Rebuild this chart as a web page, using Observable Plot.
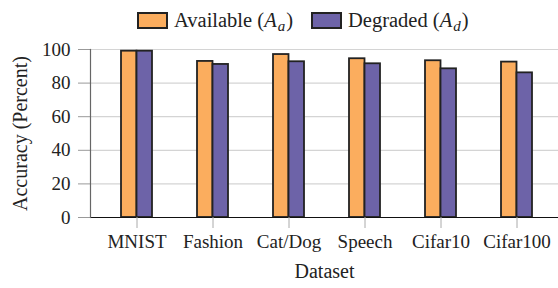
<!DOCTYPE html>
<html>
<head>
<meta charset="utf-8">
<script src="https://cdn.jsdelivr.net/npm/d3@7"></script>
<script src="https://cdn.jsdelivr.net/npm/@observablehq/plot@0.6"></script>
<style>
  html, body { margin: 0; padding: 0; background: #fff; }
  body { width: 558px; height: 288px; overflow: hidden; font-family: "Liberation Serif", "DejaVu Serif", serif; }
  #legend { position: relative; height: 40px; font-size: 20.5px; color: #222; }
  .item { position: absolute; top: 9px; display: flex; align-items: center; white-space: nowrap; }
  .sw { width: 27px; height: 13px; border: 2px solid #222; margin-right: 6px; }
  i { padding-right: 1px; }
  sub { font-size: 15px; font-style: italic; vertical-align: -4px; line-height: 0; padding-right: 1px; }
</style>
</head>
<body>
<div id="legend"></div>
<div id="chart"></div>
<script>
const datasets = ["MNIST", "Fashion", "Cat/Dog", "Speech", "Cifar10", "Cifar100"];
const available = [99.0, 92.9, 97.0, 94.5, 93.3, 92.5];
const degraded  = [99.0, 91.1, 92.7, 91.5, 88.5, 86.1];
const seriesNames = ["Available", "Degraded"];
const seriesSubs = ["a", "d"];
const colors = ["#fbad5e", "#6d63a8"];
const yTicks = [0, 20, 40, 60, 80, 100];

const legend = document.getElementById("legend");
const lefts = [137, 311];
seriesNames.forEach((n, i) => {
  const d = document.createElement("div");
  d.className = "item";
  d.style.left = lefts[i] + "px";
  d.innerHTML = `<span class="sw" style="background:${colors[i]}"></span><span>${n} (<i>A</i><sub>${seriesSubs[i]}</sub>)</span>`;
  legend.appendChild(d);
});

const rowsA = datasets.map((d, i) => ({dataset: d, value: available[i]}));
const rowsD = datasets.map((d, i) => ({dataset: d, value: degraded[i]}));

const chart = Plot.plot({
  width: 558,
  height: 248,
  marginTop: 9,
  marginBottom: 71,
  marginLeft: 90,
  marginRight: 0,
  style: {fontFamily: '"Liberation Serif", "DejaVu Serif", serif', fontSize: "19px", color: "#222", overflow: "hidden"},
  x: {domain: datasets, range: [90, 562], paddingInner: 0.596, paddingOuter: 0.375, label: null},
  y: {domain: [0, 100], label: null},
  marks: [
    Plot.gridY(yTicks.slice(1), {stroke: "#d4d4d4", strokeOpacity: 1, strokeWidth: 1.2}),
    Plot.barY(rowsA, {x: "dataset", y: "value", fill: colors[0], stroke: "#222", strokeWidth: 1.8, insetRight: 15.5}),
    Plot.barY(rowsD, {x: "dataset", y: "value", fill: colors[1], stroke: "#222", strokeWidth: 1.8, insetLeft: 15.5}),
    Plot.ruleY([0], {stroke: "#111", strokeWidth: 1.2}),
    Plot.axisY({ticks: yTicks, tickSize: 12, tickPadding: 8, stroke: "#999", label: null}),
    Plot.axisX({tickSize: 11, tickPadding: 6, stroke: "#aaa", label: null}),
    Plot.frame({anchor: "left", stroke: "#666", strokeWidth: 1.2}),
    Plot.text(["Dataset"], {frameAnchor: "bottom", lineAnchor: "middle", dy: 54, fontSize: 20}),
    Plot.text(["Accuracy (Percent)"], {frameAnchor: "left", textAnchor: "middle", lineAnchor: "middle", dx: -70, rotate: -90, fontSize: 20})
  ]
});
document.getElementById("chart").appendChild(chart);
</script>
</body>
</html>
